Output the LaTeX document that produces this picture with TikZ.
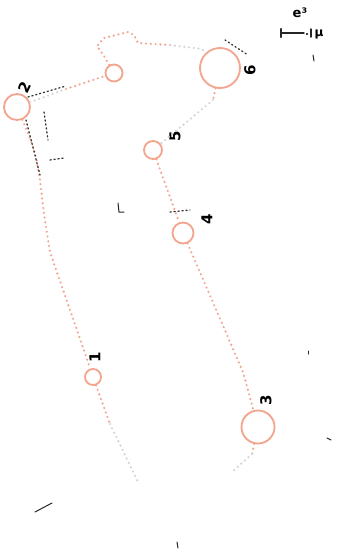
\documentclass[tikz,border=0pt]{standalone}
\usepackage{fontspec}
\newfontfamily\labelfont{DejaVu Sans}
\usetikzlibrary{calc}
\definecolor{salmon}{RGB}{244,164,140}
\definecolor{fadegrey}{RGB}{212,212,212}
\tikzset{
  x=1pt,y=-1pt,
  site/.style={circle,draw=salmon,line width=1.8pt,inner sep=0pt},
  route/.style={draw=salmon,line width=2.4pt,line cap=round,dash pattern=on 0pt off 4.8pt},
  faderoute/.style={draw=fadegrey,line width=2.4pt,line cap=round,dash pattern=on 0pt off 4.8pt},
  num/.style={font=\labelfont\bfseries\fontsize{15}{15}\selectfont,rotate=90,inner sep=0pt},
  inkstroke/.style={draw=black!85,line width=1pt,line cap=round},
  speck/.style={draw=black!80,line width=1.3pt,line cap=round,dash pattern=on 1.2pt off 2.8pt}
}
\begin{document}
\begin{tikzpicture}
\useasboundingbox[fill=white] (0,0) rectangle (340,552);
% sites
\node[site,minimum size=26pt] (s2) at (17,107) {};
\node[site,minimum size=17pt] (s7) at (114,73) {};
\node[site,minimum size=40pt] (s6) at (220,68) {};
\node[site,minimum size=18pt] (s5) at (153,150) {};
\node[site,minimum size=21pt] (s4) at (183,233) {};
\node[site,minimum size=16pt] (s1) at (93,377) {};
\node[site,minimum size=33pt] (s3) at (258,427) {};
% labels
\node[num,rotate=-25] (l2) at (25,87) {2};
\node[num] (l6) at (250,70) {6};
\node[num] (l5) at (175,136) {5};
\node[num] (l4) at (207,219) {4};
\node[num] (l1) at (95,357) {1};
\node[num] (l3) at (266,400) {3};
% helper coordinates
\coordinate (a1) at (40,180);
\coordinate (a2) at (50,252);
\coordinate (a3) at (88,362);
\coordinate (b1) at (110,424);
\coordinate (b2) at (138,482);
\coordinate (c1) at (66,89);
\coordinate (d1) at (104,56);
\coordinate (d2) at (97,46);
\coordinate (d3) at (104,38);
\coordinate (d4) at (128,32);
\coordinate (d5) at (134,35);
\coordinate (d6) at (138,43);
\coordinate (d7) at (170,45);
\coordinate (d8) at (202,49);
\coordinate (e1) at (213,100);
\coordinate (f1) at (243,372);
\coordinate (g1) at (252,454);
\coordinate (g2) at (232,472);
% routes
\draw[route] (s2) .. controls (35,150) .. (a1) .. controls (44,215) .. (a2) -- (a3) -- (s1);
\draw[route] (s1) -- (b1);
\draw[faderoute] (b1) -- (b2);
\draw[faderoute] (s2) -- (c1);
\draw[route] (c1) -- (s7);
\draw[route] (s7) -- (d1) -- (d2) -- (d3) -- (d4) -- (d5) -- (d6) -- (d7);
\draw[faderoute] (d7) -- (d8) -- (s6);
\draw[route] (s6) -- (e1);
\draw[faderoute] (e1) -- (s5);
\draw[route] (s5) -- (s4);
\draw[route] (s4) -- (f1) -- (s3);
\draw[route] (s3) -- (g1);
\draw[faderoute] (g1) -- (g2);
% scale bar
\coordinate (sb1) at (281,33);
\coordinate (sb2) at (304,33);
\draw[inkstroke,line width=1.4pt] (sb1) -- (sb2);
\draw[inkstroke,line width=2.2pt] ($(sb1)+(0,-4)$) -- ($(sb1)+(0,4)$);
\draw[inkstroke,line width=1.5pt] ($(sb2)+(7,-4)$) -- ($(sb2)+(7,4)$);
\fill[black] ($(sb2)+(3,1)$) circle (1.1pt);
\node[font=\labelfont\bfseries\fontsize{12}{12}\selectfont,inner sep=0pt] (mu) at (319,34) {μ};
\node[font=\labelfont\bfseries\fontsize{13}{13}\selectfont,inner sep=0pt] (e3) at (300,13) {e³};
% stray marks
\draw[speck] (28,97) -- (66,86);
\draw[speck] (44,112) -- (48,140);
\draw[speck] (26,120) -- (40,175);
\draw[speck] (50,160) -- (64,158);
\draw[speck] (225,40) -- (248,55);
\draw[speck] (170,212) -- (190,210);
\draw[inkstroke] (118,203) -- (119,212) -- (124,212);
\draw[inkstroke] (35,512) -- (52,503);
\draw[inkstroke] (177,542) -- (178,548);
\draw[inkstroke] (327,438) -- (331,440);
\draw[inkstroke] (308,351) -- (308,354);
\draw[inkstroke] (313,55) -- (314,61);
\end{tikzpicture}
\end{document}
